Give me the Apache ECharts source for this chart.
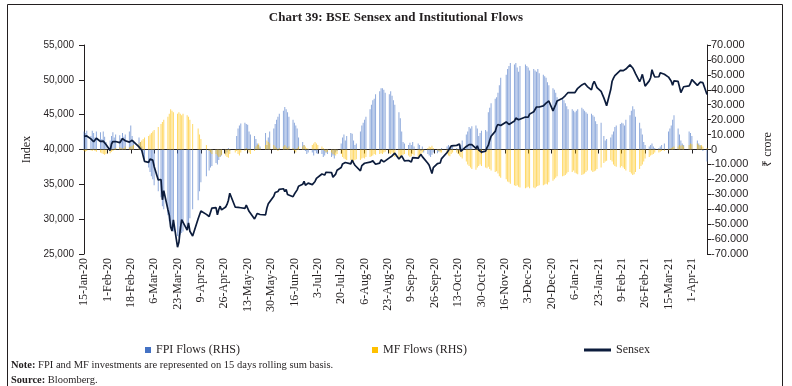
<!DOCTYPE html>
<html><head><meta charset="utf-8">
<script src="https://cdn.jsdelivr.net/npm/echarts@6/dist/echarts.min.js"></script>
<style>html,body{margin:0;padding:0;background:#fff}#c{width:792px;height:386px}</style>
</head><body><div id="c"></div>
<script>
// Day index 0 = 15-Jan-2020; weekly rows start on Mondays from 13-Jan-2020 (Mon..Fri)
const xTickLabels = ['15-Jan-20','1-Feb-20','18-Feb-20','6-Mar-20','23-Mar-20','9-Apr-20','26-Apr-20','13-May-20','30-May-20','16-Jun-20','3-Jul-20','20-Jul-20','6-Aug-20','23-Aug-20','9-Sep-20','26-Sep-20','13-Oct-20','30-Oct-20','16-Nov-20','3-Dec-20','20-Dec-20','6-Jan-21','23-Jan-21','9-Feb-21','26-Feb-21','15-Mar-21','1-Apr-21'];

const sensexWeekly = [
[null,null,41873,41933,41945],[41529,41324,41115,41386,41613],[41155,40967,41198,40914,40723],
[39872,40789,41143,41306,41142],[40980,41216,41566,41460,41258],[41056,40895,41324,41170,null],
[40363,40282,39889,39746,38297],[38144,38624,38409,38471,37577],[35635,null,35697,32778,34103],
[31390,30579,28869,28288,29916],[25981,26674,28536,29947,29816],[28440,29468,28265,null,27591],
[null,30067,29894,31160,null],[30690,null,30380,30603,31589],[31648,30636,31380,31863,31327],
[31744,32114,32720,33717,null],[31715,31453,31686,31443,31642],[31561,32008,32200,31122,31097],
[30029,30196,30818,30932,30672],[null,30609,31605,32200,32424],[33303,33825,34110,33981,34287],
[34370,33957,34247,33538,33781],[33228,33606,33508,34208,34731],[35000,35430,34868,34843,35171],
[34962,34916,35415,35843,36021],[36487,36675,36330,36738,36594],[36694,36033,36052,36471,37020],
[37418,37930,37871,38140,38128],[37934,38492,38071,37736,37606],[36939,37688,37663,38025,38040],
[38182,38407,38369,38310,37877],[38051,38528,38614,38220,38434],[38799,38843,39074,39113,39467],
[38628,38900,39086,38990,38357],[38417,38365,38193,38840,38854],[38757,39044,39302,38980,38845],
[38034,37734,37668,36553,37389],[37982,37973,38068,38697,null],[39574,39878,40182,40509,40509],
[40593,40625,40795,39728,39982],[40432,40544,40707,40558,40686],[40146,40522,39922,39750,39614],
[39758,40261,40616,41340,41893],[42597,43278,43594,43357,43443],[null,43953,44180,43600,43882],
[44077,44523,44260,44260,44150],[null,44655,44618,44632,45080],[45426,45608,46104,45960,46099],
[46253,46263,46666,46890,46961],[45554,46007,46444,46974,null],[47354,47613,47746,47751,48177],
[48177,48438,48174,48093,48782],[49269,49517,49492,49584,49035],[48564,49398,49792,49625,48879],
[48348,null,47410,46874,46286],[48601,49798,50256,50614,50732],[51348,51329,51309,51532,51544],
[52154,52104,51704,51324,50890],[49744,50195,50782,51039,49100],[49850,50297,51445,50846,50405],
[50441,51025,51280,null,50792],[50395,50363,49801,49216,49858],[49771,50051,48180,48440,49008],
[null,49136,49509,50029,null],[49201,49159,49662,49746,49591],[47883]
];

const fpiWeekly = [
[null,null,12000,11000,12500],[9000,12500,11000,8000,12000],[11500,7000,12000,8500,5000],
[6000,9000,11500,8000,10000],[9500,7500,11000,8500,10000],[12000,16000,9000,6000,null],
[8000,5000,2000,-3000,-8000],[-12000,-15000,-18000,-20000,-24000],[-28000,null,-32000,-38000,-40000],
[-44000,-48000,-52000,-54000,-55000],[-58000,-59000,-57000,-56000,-55000],[-53000,-50000,-46000,null,-40000],
[null,-34000,-28000,-22000,null],[-18000,null,-14000,-12000,-11000],[-9000,-10000,-7000,-5000,-4000],
[-3000,-2000,1000,-1000,null],[0,9000,14000,16000,17500],[18000,17000,16500,12000,10000],
[9000,7000,4000,3000,2000],[null,11000,3000,8000,12000],[14000,17000,20000,22000,24000],
[26000,28500,27000,25000,22000],[20000,18000,16000,14000,8000],[5000,3000,-1000,-3000,-2000],
[-2000,-4000,-1000,-2500,-3000],[-3000,-5000,-4000,-2000,-3000],[-5000,-4000,-6000,-2000,-1000],
[4000,8000,10000,6000,9000],[11000,10500,6000,3000,4000],[12000,16000,18000,20000,22000],
[27000,30000,33000,34000,37000],[39000,41000,41000,40000,38000],[37000,39000,36000,33000,30000],
[25000,21000,12000,5000,4000],[3000,4500,3000,5000,2000],[4000,3000,-1000,2000,-2000],
[-3000,-4000,-5000,-3500,-2000],[-2500,-1500,-1000,1000,null],[2000,3000,2000,1500,3000],
[1000,-1000,2000,3000,6000],[10000,12000,15000,14000,15500],[16000,14000,9000,11000,12500],
[13000,12000,25000,28000,31000],[34000,35000,38000,43000,48000],[null,50000,54000,56000,58000],
[57000,58000,55000,52000,56000],[null,57000,56000,55000,53000],[54000,53000,52000,54000,51000],
[50000,49000,48000,45000,43000],[41000,40000,38000,35000,null],[34000,33000,31000,29000,27000],
[27000,26000,25000,26000,27000],[28000,27000,26000,25000,24000],[24000,23000,22000,19000,17000],
[18000,null,9000,6000,7000],[8000,10000,12000,15000,16000],[17000,18000,17500,16000,20000],
[23000,26000,29000,27000,22000],[18000,14000,10000,5000,3000],[2000,3000,4000,2000,1000],
[1000,2000,3000,null,4000],[12000,14000,16000,20000,23000],[14000,10000,6000,4000,3000],
[null,12000,11000,9000,null],[6000,4000,3000,2000,-1000],[-8000]
];

const mfWeekly = [
[null,null,-1000,-1500,-1000],[-500,-1000,500,-1000,-1500],[-2000,-2500,-3000,-3500,-3000],
[-2500,-1500,-1000,500,1000],[1500,1000,500,1000,2000],[1500,2000,2500,3000,null],
[4000,5000,6000,7000,8000],[9000,10000,11000,12000,13000],[15000,null,17000,18500,20000],
[22000,24000,27000,26000,25000],[24000,25000,24000,23000,24000],[23000,22000,20000,null,17000],
[null,14000,10000,7000,null],[3000,null,-1000,-2000,-3000],[-3000,-4000,-5000,-4500,-3500],
[-4000,-5000,-5500,-3000,null],[-2000,-1000,-3000,-4000,-2000],[-1000,1000,-500,-2000,-3000],
[-1000,2000,3000,4000,1000],[null,3000,6000,5000,4000],[3000,2000,1000,-1000,1000],
[2000,3000,2000,1000,2000],[1000,-1000,-2000,1000,2000],[2000,3000,2000,1000,500],
[3000,4000,5000,4000,3000],[2000,1000,-1000,-2000,-1500],[-2000,-3000,-3500,-4000,-3000],
[-3000,-5000,-6000,-6500,-7000],[-7000,-7500,-8000,-7000,-6500],[-7000,-6000,-5500,-6000,-5000],
[-5000,-4500,-4000,-3000,-3500],[-3000,-2500,-3000,-2000,-1500],[-2500,-3000,-2000,-4000,-5000],
[-6000,-5000,-4000,-3500,-3000],[-4000,-5000,-4500,-3000,-4000],[-5000,-4000,-3000,-2000,-1000],
[1000,2000,1500,2500,1000],[-500,-1000,-2000,-2000,null],[-3000,-4000,-4500,-3000,-2000],
[-2000,-3000,-4000,-5000,-6000],[-8000,-10000,-11000,-12000,-13000],[-13500,-12000,-11000,-10000,-11000],
[-12000,-12500,-11500,-13000,-14000],[-15000,-14500,-16000,-18000,-19000],[null,-20000,-21500,-22000,-23000],
[-24000,-24500,-24000,-25000,-25500],[null,-26000,-25500,-25000,-26000],[-25500,-26000,-25000,-24500,-24000],
[-24000,-23500,-23000,-23500,-22000],[-21000,-20000,-19000,-18000,null],[-18000,-17500,-17000,-16000,-15000],
[-15000,-14000,-15500,-16000,-16500],[-17000,-16500,-16000,-15000,-14000],[-14000,-15000,-14500,-14000,-13000],
[-12000,null,-9000,-8000,-7500],[-7000,-8000,-10000,-11000,-11500],[-12000,-11000,-12000,-13000,-14000],
[-15000,-16000,-17000,-16500,-15000],[-13000,-11000,-10000,-8000,-6000],[-5000,-4000,-3500,-3000,-2000],
[-2000,-1500,-1000,null,-1000],[-500,500,1000,1500,2000],[2000,3000,2500,3000,2000],
[null,3000,4000,3500,null],[4000,3000,2500,3000,2000],[1000]
];

function toPoints(weeks){
  const out = [];
  weeks.forEach((row, w) => row.forEach((v, d) => { if (v !== null) out.push([w * 7 + d - 2, v]); }));
  return out;
}

const serif = 'Liberation Serif';
const ink = '#231f20';
const fpiColor = '#4472c4', mfColor = '#ffc000', lineColor = '#0c1c3c';
const legendText = {fontFamily: serif, fontSize: 12, color: ink};
const chart = echarts.init(document.getElementById('c'), null, {renderer: 'canvas'});
chart.setOption({
  animation: false,
  backgroundColor: '#fff',
  title: {
    text: 'Chart 39: BSE Sensex and Institutional Flows',
    left: 'center', top: 6,
    textStyle: {fontFamily: serif, fontWeight: 'bold', fontSize: 13, color: ink}
  },
  legend: [
    {data: [{name: 'FPI Flows (RHS)', itemStyle: {color: fpiColor, opacity: 1}}], left: 140, top: 339,
     icon: 'rect', itemWidth: 6, itemHeight: 6, selectedMode: false, textStyle: legendText},
    {data: [{name: 'MF Flows (RHS)', itemStyle: {color: mfColor, opacity: 1}}], left: 367, top: 339,
     icon: 'rect', itemWidth: 6, itemHeight: 6, selectedMode: false, textStyle: legendText},
    {data: ['Sensex'], left: 579, top: 339, icon: 'rect', itemWidth: 27, itemHeight: 3, selectedMode: false,
     textStyle: legendText}
  ],
  grid: {left: 84, right: 85, top: 45, bottom: 132, containLabel: false},
  xAxis: {
    type: 'value', min: 0, max: 453, interval: 17,
    axisLine: {lineStyle: {color: ink, width: 1}},
    axisTick: {length: 4, lineStyle: {color: ink}},
    splitLine: {show: false},
    axisLabel: {
      rotate: 90, margin: 4, fontFamily: serif, fontSize: 12, color: ink, showMaxLabel: false,
      formatter: v => (v % 17 === 0 && xTickLabels[v / 17]) || ''
    }
  },
  yAxis: [
    {
      type: 'value', min: 25000, max: 55000, interval: 5000,
      name: 'Index', nameLocation: 'middle', nameGap: 48,
      nameTextStyle: {fontFamily: serif, fontSize: 12, color: ink},
      axisLine: {show: true, lineStyle: {color: ink}},
      axisTick: {show: true, length: 5, lineStyle: {color: ink}},
      splitLine: {show: false},
      axisLabel: {fontFamily: 'Liberation Sans', fontSize: 10, color: ink, margin: 10,
        formatter: v => v.toLocaleString('en-US')}
    },
    {
      type: 'value', min: -70000, max: 70000, interval: 10000, position: 'right',
      name: '₹ crore', nameLocation: 'middle', nameGap: 55, nameRotate: 90,
      nameTextStyle: {fontFamily: serif, fontSize: 12, color: ink},
      axisLine: {show: true, lineStyle: {color: ink}},
      axisTick: {show: true, length: 4, lineStyle: {color: ink}},
      splitLine: {show: false},
      axisLabel: {fontFamily: 'Liberation Sans', fontSize: 11, color: ink, margin: 4,
        formatter: v => v === 0 ? '0' : (v < 0 ? '-' : '') + Math.abs(v / 1000) + '.000'}
    }
  ],
  series: [
    {name: 'FPI Flows (RHS)', type: 'bar', yAxisIndex: 1, barWidth: 1, barGap: '-100%',
     itemStyle: {color: fpiColor, opacity: 0.6}, data: toPoints(fpiWeekly), z: 2},
    {name: 'MF Flows (RHS)', type: 'bar', yAxisIndex: 1, barWidth: 1, barGap: '-100%',
     itemStyle: {color: mfColor, opacity: 0.6}, data: toPoints(mfWeekly), z: 2},
    {name: 'Sensex', type: 'line', yAxisIndex: 0, symbol: 'none', z: 5,
     lineStyle: {color: lineColor, width: 1.7}, itemStyle: {color: lineColor},
     data: toPoints(sensexWeekly)}
  ],
  graphic: [
    {type: 'rect', left: 5, top: 2, shape: {width: 775, height: 382},
     style: {fill: 'none', stroke: ink, lineWidth: 1}, silent: true},
    {type: 'text', left: 11, top: 360, style: {
      text: '{b|Note:} FPI and MF investments are represented on 15 days rolling sum basis.',
      fontFamily: serif, fontSize: 10.5, fill: ink,
      rich: {b: {fontFamily: serif, fontSize: 10.5, fontWeight: 'bold', fill: ink}}}},
    {type: 'text', left: 11, top: 375, style: {
      text: '{b|Source:} Bloomberg.',
      fontFamily: serif, fontSize: 10.5, fill: ink,
      rich: {b: {fontFamily: serif, fontSize: 10.5, fontWeight: 'bold', fill: ink}}}}
  ]
});
</script></body></html>
